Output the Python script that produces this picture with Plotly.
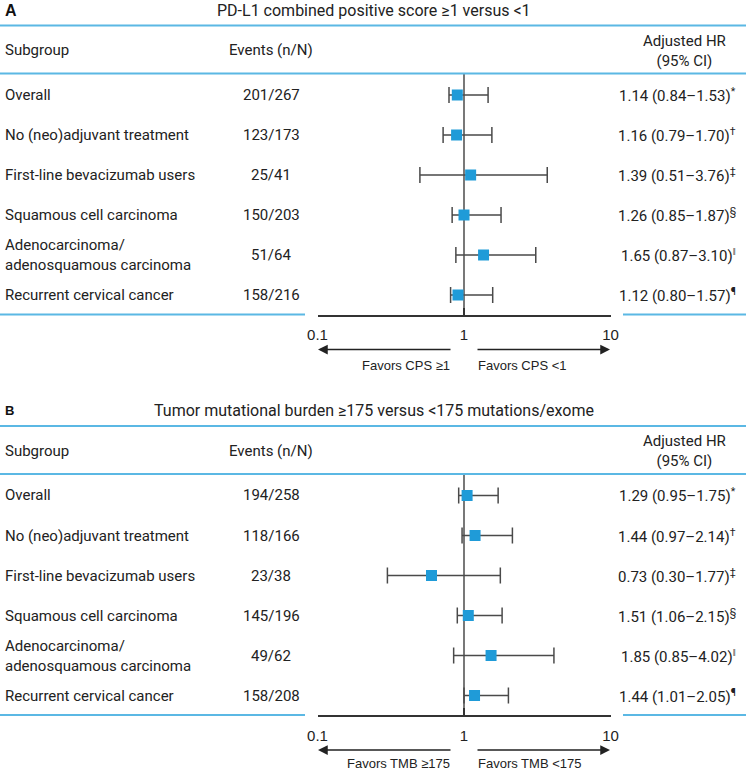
import plotly.graph_objects as go

W, H = 746, 772

# ---------------- data ----------------
subgroups = ["Overall", "No (neo)adjuvant treatment", "First-line bevacizumab users",
             "Squamous cell carcinoma", "Adenocarcinoma/<br>adenosquamous carcinoma",
             "Recurrent cervical cancer"]

events_a = ["201/267", "123/173", "25/41", "150/203", "51/64", "158/216"]
hr_a = [0.90, 0.89, 1.11, 1.00, 1.36, 0.91]
lo_a = [0.79, 0.72, 0.50, 0.83, 0.88, 0.81]
hi_a = [1.46, 1.55, 3.70, 1.79, 3.09, 1.57]
labels_a = ["1.14 (0.84–1.53)<sup>*</sup>", "1.16 (0.79–1.70)<sup>†</sup>",
            "1.39 (0.51–3.76)<sup>‡</sup>", "1.26 (0.85–1.87)<sup>§</sup>",
            "1.65 (0.87–3.10)<sup>‖</sup>", "1.12 (0.80–1.57)<sup>¶</sup>"]

events_b = ["194/258", "118/166", "23/38", "145/196", "49/62", "158/208"]
hr_b = [1.05, 1.19, 0.60, 1.07, 1.53, 1.18]
lo_b = [0.92, 0.97, 0.30, 0.90, 0.85, 1.00]
hi_b = [1.71, 2.14, 1.77, 1.82, 4.11, 2.01]
labels_b = ["1.29 (0.95–1.75)<sup>*</sup>", "1.44 (0.97–2.14)<sup>†</sup>",
            "0.73 (0.30–1.77)<sup>‡</sup>", "1.51 (1.06–2.15)<sup>§</sup>",
            "1.85 (0.85–4.02)<sup>‖</sup>", "1.44 (1.01–2.05)<sup>¶</sup>"]

panel_letters = ["A", "B"]
panel_titles = ["PD-L1 combined positive score ≥1 versus <1",
                "Tumor mutational burden ≥175 versus <175 mutations/exome"]
favors_left = ["Favors CPS ≥1", "Favors TMB ≥175"]
favors_right = ["Favors CPS <1", "Favors TMB <175"]
tick_vals = [0.1, 1, 10]
tick_text = ["0.1", "1", "10"]

# ---------------- styling ----------------
FONT = "Roboto"
ARIAL = "Liberation Sans"
BLUE_LINE = "#5bb8e4"
BOX = "#1f9bd8"
BAR = "#4a4a4a"
REF = "#6a6a6a"
TXT = "#222222"

X0, X1 = 317.5, 610.5  # pixel extent of log axis 0.1 .. 10

def px(x):
    return x / W

def py(y):
    return 1 - y / H

fig = go.Figure()
shapes = []
ann = []

panels = [
    dict(ev=events_a, hr=hr_a, lo=lo_a, hi=hi_a, lab=labels_a, off=0, ax="", fav=365.5),
    dict(ev=events_b, hr=hr_b, lo=lo_b, hi=hi_b, lab=labels_b, off=400.5, ax="2", fav=362.5),
]

ROW0 = 95.0
STEP = 40.0
for k, p in enumerate(panels):
    off = p["off"]
    ax = p["ax"]
    top_line = 25.5 + off
    head_line = 73.5 + off
    axis_y = 314.5 + off
    n = len(p["hr"])
    ymin = (head_line - (ROW0 + off)) / STEP
    ymax = (axis_y - (ROW0 + off)) / STEP
    xa = "x" + ax
    ya = "y" + ax
    fig.add_trace(go.Scatter(
        x=p["hr"], y=list(range(n)), mode="markers",
        marker=dict(symbol="square", size=11, color=BOX, line=dict(width=0)),
        error_x=dict(type="data", symmetric=False,
                     array=[h - m for h, m in zip(p["hi"], p["hr"])],
                     arrayminus=[m - l for m, l in zip(p["hr"], p["lo"])],
                     color=BAR, thickness=1.5, width=8),
        xaxis=xa, yaxis=ya, showlegend=False, hoverinfo="skip"))
    xkey = "xaxis" + ax
    ykey = "yaxis" + ax
    fig.layout[xkey] = dict(
        type="log", range=[-1, 1], domain=[px(X0), px(X1)], anchor=ya,
        showgrid=False, zeroline=False, showline=True, linecolor="#333333", linewidth=1.5,
        tickmode="array", tickvals=tick_vals, ticktext=tick_text,
        ticks="inside", ticklen=7, tickwidth=1.5, tickcolor="#333333",
        ticklabelstandoff=6, automargin=False,
        tickfont=dict(family=ARIAL, size=15, color=TXT), fixedrange=True)
    fig.layout[ykey] = dict(
        range=[ymax, ymin], domain=[py(axis_y), py(head_line)], anchor=xa,
        visible=False, fixedrange=True, automargin=False)
    shapes.append(dict(type="line", xref=xa, yref=ya + " domain", x0=1, x1=1, y0=0, y1=1,
                       line=dict(color=REF, width=1.8), layer="below"))
    shapes.append(dict(type="line", xref="paper", yref="paper", x0=0, x1=1,
                       y0=py(top_line), y1=py(top_line), line=dict(color=BLUE_LINE, width=2)))
    shapes.append(dict(type="line", xref="paper", yref="paper", x0=0, x1=1,
                       y0=py(head_line), y1=py(head_line), line=dict(color=BLUE_LINE, width=2)))
    shapes.append(dict(type="line", xref="paper", yref="paper", x0=0, x1=px(305),
                       y0=py(axis_y), y1=py(axis_y), line=dict(color=BLUE_LINE, width=2)))
    shapes.append(dict(type="line", xref="paper", yref="paper", x0=px(623), x1=1,
                       y0=py(axis_y), y1=py(axis_y), line=dict(color=BLUE_LINE, width=2)))
    ann.append(dict(text="<b>%s</b>" % panel_letters[k], x=px(3), y=py(10 + off),
                    xanchor="left", yanchor="middle",
                    font=dict(family=ARIAL, size=16 if k == 0 else 13, color="#111")))
    ann.append(dict(text=panel_titles[k], x=px(374), y=py(10 + off),
                    xanchor="center", yanchor="middle",
                    font=dict(family=FONT, size=16, color=TXT)))
    ann.append(dict(text="Subgroup", x=px(3), y=py(50 + off), xanchor="left", yanchor="middle",
                    font=dict(family=FONT, size=15, color=TXT)))
    ann.append(dict(text="Events (n/N)", x=px(271), y=py(50 + off), xanchor="center",
                    yanchor="middle", font=dict(family=FONT, size=15, color=TXT)))
    ann.append(dict(text="Adjusted HR<br>(95% CI)", x=px(684), y=py(50.5 + off),
                    xanchor="center", yanchor="middle", align="center",
                    font=dict(family=FONT, size=15, color=TXT)))
    for i in range(n):
        ry = py(ROW0 + off + STEP * i)
        ann.append(dict(text=subgroups[i], x=px(3), y=ry, xanchor="left", yanchor="middle",
                        align="left", font=dict(family=FONT, size=15, color=TXT)))
        ann.append(dict(text=p["ev"][i], x=px(271), y=ry, xanchor="center", yanchor="middle",
                        font=dict(family=FONT, size=15, color=TXT)))
        ann.append(dict(text=p["lab"][i], x=px(738), y=ry, xanchor="right", yanchor="middle",
                        font=dict(family=FONT, size=15, color=TXT)))
    arr_y = 349.5 + off
    ann.append(dict(x=px(318), y=py(arr_y), ax=134, ay=0, axref="pixel", ayref="pixel",
                    text="", showarrow=True, arrowhead=2, arrowsize=1.3, arrowwidth=1.5,
                    arrowcolor="#222"))
    ann.append(dict(x=px(610), y=py(arr_y), ax=-134, ay=0, axref="pixel", ayref="pixel",
                    text="", showarrow=True, arrowhead=2, arrowsize=1.3, arrowwidth=1.5,
                    arrowcolor="#222"))
    ann.append(dict(text=favors_left[k], x=px(452), y=py(p["fav"] + off), xanchor="right",
                    yanchor="middle", font=dict(family=ARIAL, size=13, color=TXT)))
    ann.append(dict(text=favors_right[k], x=px(476), y=py(p["fav"] + off), xanchor="left",
                    yanchor="middle", font=dict(family=ARIAL, size=13, color=TXT)))

for a in ann:
    a.setdefault("xref", "paper")
    a.setdefault("yref", "paper")
    a.setdefault("showarrow", False)

fig.update_layout(width=W, height=H, autosize=False,
                  margin=dict(l=0, r=0, t=0, b=0, pad=0, autoexpand=False),
                  paper_bgcolor="white", plot_bgcolor="rgba(0,0,0,0)",
                  shapes=shapes, annotations=ann)
fig.write_html("out.html",
               config={"displayModeBar": False, "responsive": False},
               post_script="document.body.style.margin='0';document.body.style.overflow='hidden';")
